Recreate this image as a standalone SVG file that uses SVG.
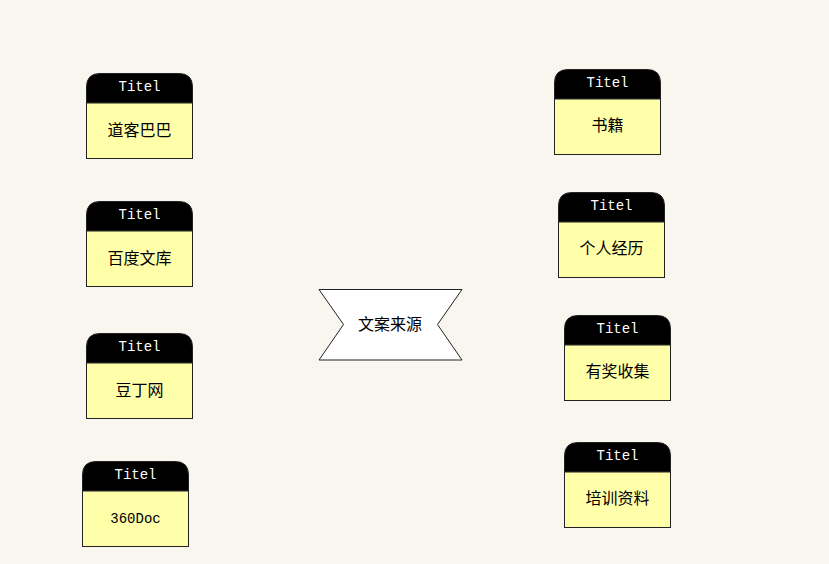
<svg xmlns="http://www.w3.org/2000/svg" width="829" height="564" viewBox="0 0 829 564">
<style>
.hd{fill:#000;stroke:#222;stroke-width:1}
.bd{fill:#FFFFAA;stroke:#222;stroke-width:1}
.tt{font-family:"Liberation Mono","DejaVu Sans Mono",monospace;font-size:14px;fill:#fff;text-anchor:middle}
.lb{font-family:"Noto Sans CJK SC","Liberation Sans",sans-serif;font-size:16px;fill:#000;text-anchor:middle}
.lm{font-family:"Liberation Mono","Noto Sans CJK SC",monospace;font-size:14px;fill:#000;text-anchor:middle}
</style>
<defs>
<g id="card">
<path class="hd" d="M0.5,30 L0.5,14 Q0.5,0.5 14,0.5 L93,0.5 Q106.5,0.5 106.5,14 L106.5,30 Z"/>
<rect class="bd" x="0.5" y="30" width="106" height="55.5"/>
<text class="tt" x="53.5" y="18">Titel</text>
</g>
</defs>
<rect width="829" height="564" fill="#F9F6F0"/>
<g id="connectors"></g>
<g id="n1" transform="translate(86,73)"><use href="#card"/><text class="lb" x="53.5" y="63">道客巴巴</text></g>
<g id="n2" transform="translate(86,201)"><use href="#card"/><text class="lb" x="53.5" y="63">百度文库</text></g>
<g id="n3" transform="translate(86,333)"><use href="#card"/><text class="lb" x="53.5" y="63">豆丁网</text></g>
<g id="n4" transform="translate(82,461)"><use href="#card"/><text class="lm" x="53.5" y="62">360Doc</text></g>
<g id="n5" transform="translate(554,69)"><use href="#card"/><text class="lb" x="53.5" y="62">书籍</text></g>
<g id="n6" transform="translate(558,192)"><use href="#card"/><text class="lb" x="53.5" y="62">个人经历</text></g>
<g id="n7" transform="translate(564,315)"><use href="#card"/><text class="lb" x="53.5" y="62">有奖收集</text></g>
<g id="n8" transform="translate(564,442)"><use href="#card"/><text class="lb" x="53.5" y="62">培训资料</text></g>
<g id="center">
<polygon points="319,289.5 462,289.5 437.5,324.5 462,360 319,360 343.5,324.5" fill="#fff" stroke="#222" stroke-width="1"/>
<text class="lb" x="390" y="330">文案来源</text>
</g>
</svg>
